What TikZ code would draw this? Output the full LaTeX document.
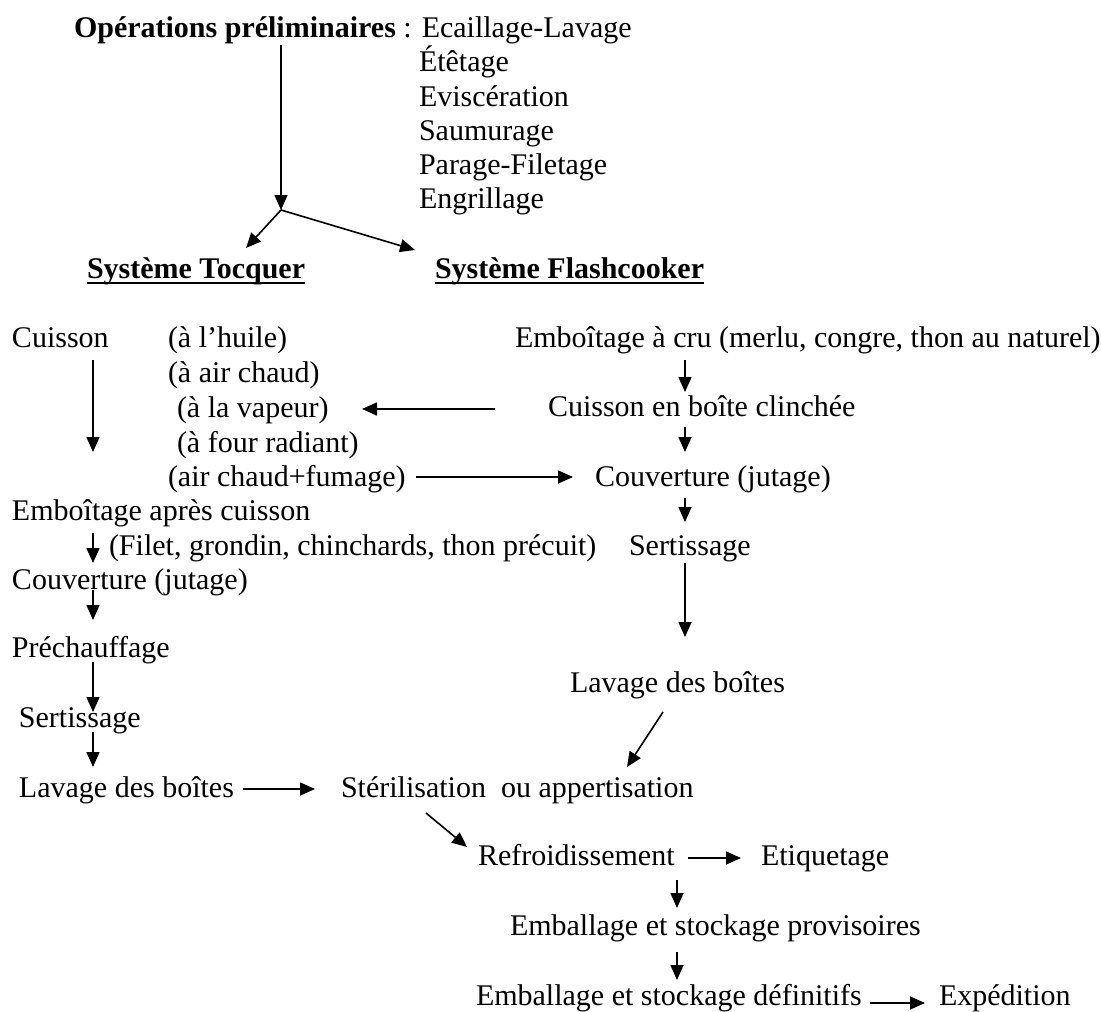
\documentclass[tikz,border=0pt]{standalone}
\usepackage{fontspec}
\setmainfont{Liberation Serif}
\usetikzlibrary{arrows.meta,calc}
\begin{document}
\begin{tikzpicture}[x=1pt,y=-1pt,
  txt/.style={anchor=base west,inner sep=0pt,outer sep=0pt,font=\fontsize{30}{34.5}\selectfont},
  arr/.style={line width=1.6pt,-{Triangle[width=13pt,length=15pt]}},
  uline/.style={line width=2pt}]
\useasboundingbox (0,0) rectangle (1101,1012);
% --- top part
\node[txt] (title) at (74,37) {\textbf{Opérations préliminaires} : Ecaillage-Lavage};
\node[txt] (op2) at (419,71) {Étêtage};
\node[txt] (op3) at (419,106) {Eviscération};
\node[txt] (op4) at (419,140) {Saumurage};
\node[txt] (op5) at (419,174) {Parage-Filetage};
\node[txt] (op6) at (419,208) {Engrillage};
\node[txt] (tocq) at (87,278) {\textbf{Système Tocquer}};
\node[txt] (flash) at (435,278) {\textbf{Système Flashcooker}};
\draw[uline] ($(tocq.base west)+(0,5)$) -- ($(tocq.base east)+(0,5)$);
\draw[uline] ($(flash.base west)+(0,5)$) -- ($(flash.base east)+(0,5)$);
% --- Tocquer column
\node[txt] (cuis) at (12,347) {Cuisson};
\node[txt] (huile) at (168,347) {(à l’huile)};
\node[txt] (air) at (168,382) {(à air chaud)};
\node[txt] (vap) at (177,417) {(à la vapeur)};
\node[txt] (four) at (177,452) {(à four radiant)};
\node[txt] (fum) at (168,486) {(air chaud+fumage)};
\node[txt] (embap) at (12,520) {Emboîtage après cuisson};
\node[txt] (filet) at (109,555) {(Filet, grondin, chinchards, thon précuit)};
\node[txt] (couvL) at (12,589) {Couverture (jutage)};
\node[txt] (prech) at (12,657) {Préchauffage};
\node[txt] (sertL) at (19,727) {Sertissage};
\node[txt] (lavL) at (19,797) {Lavage des boîtes};
% --- Flashcooker column
\node[txt] (cru) at (515,347) {Emboîtage à cru (merlu, congre, thon au naturel)};
\node[txt] (clinch) at (548,416) {Cuisson en boîte clinchée};
\node[txt] (couvR) at (595,486) {Couverture (jutage)};
\node[txt] (sertR) at (629,555) {Sertissage};
\node[txt] (lavR) at (570,692) {Lavage des boîtes};
% --- common end
\node[txt] (steril) at (341,797) {Stérilisation\ \ ou appertisation};
\node[txt] (refr) at (478,865) {Refroidissement};
\node[txt] (etiq) at (761,865) {Etiquetage};
\node[txt] (embprov) at (510,935) {Emballage et stockage provisoires};
\node[txt] (embdef) at (476,1005) {Emballage et stockage définitifs};
\node[txt] (exped) at (939,1005) {Expédition};
% --- connectors
\coordinate (br) at ($(title.base west)+(207,173)$);
\draw[arr] ($(title.base west)+(207,8)$) -- (br);
\draw[arr] (br) -- ($(tocq.base west)+(159,-30)$);
\draw[arr] (br) -- ($(flash.base west)+(-20,-28)$);
\draw[arr] ($(cuis.base west)+(81,13)$) -- ($(embap.base west)+(81,-68)$);
\draw[arr] ($(clinch.base west)+(-53,-7)$) -- ($(vap.base west)+(185,-8)$);
\draw[arr] ($(fum.base west)+(248,-9)$) -- ($(couvR.base west)+(-22,-9)$);
\draw[arr] ($(cru.base west)+(170,13)$) -- ($(clinch.base west)+(137,-24)$);
\draw[arr] ($(clinch.base west)+(137,11)$) -- ($(couvR.base west)+(90,-34)$);
\draw[arr] ($(couvR.base west)+(90,12)$) -- ($(sertR.base west)+(56,-33)$);
\draw[arr] ($(sertR.base west)+(56,8)$) -- ($(lavR.base west)+(115,-55)$);
\draw[arr] ($(embap.base west)+(81,13)$) -- ($(couvL.base west)+(81,-26)$);
\draw[arr] ($(couvL.base west)+(81,1)$) -- ($(prech.base west)+(81,-37)$);
\draw[arr] ($(prech.base west)+(81,5)$) -- ($(sertL.base west)+(74,-15)$);
\draw[arr] ($(sertL.base west)+(74,5)$) -- ($(lavL.base west)+(74,-30)$);
\draw[arr] ($(lavL.base west)+(224,-8)$) -- ($(steril.base west)+(-26,-8)$);
\draw[arr] ($(lavR.base west)+(93,20)$) -- ($(steril.base west)+(286,-30)$);
\draw[arr] ($(steril.base west)+(85,16)$) -- ($(refr.base west)+(-11,-18)$);
\draw[arr] ($(refr.base west)+(210,-7)$) -- ($(etiq.base west)+(-20,-7)$);
\draw[arr] ($(refr.base west)+(199,15)$) -- ($(embprov.base west)+(167,-27)$);
\draw[arr] ($(embprov.base west)+(167,17)$) -- ($(embdef.base west)+(201,-25)$);
\draw[arr] ($(embdef.base west)+(394,-2)$) -- ($(exped.base west)+(-14,-2)$);
\end{tikzpicture}
\end{document}
